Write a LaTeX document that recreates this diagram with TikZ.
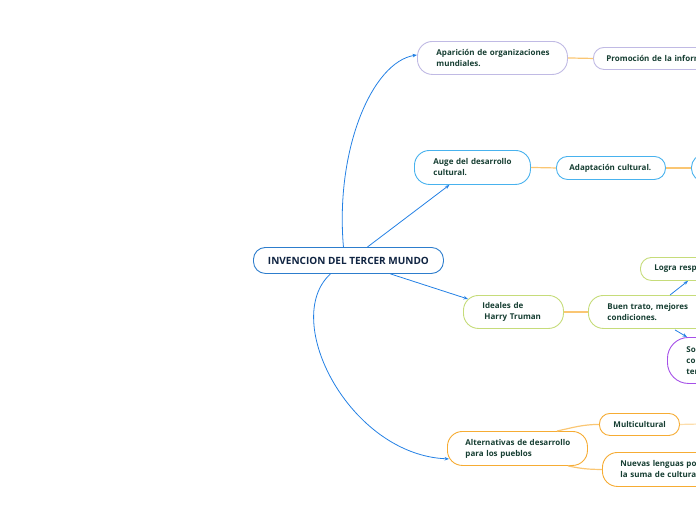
\documentclass[tikz,border=0pt]{standalone}
\usepackage{fontspec}
\setmainfont{Open Sans}
\usetikzlibrary{calc,arrows.meta}
\definecolor{linkblue}{RGB}{35,128,228}
\definecolor{rootblue}{RGB}{45,125,205}
\definecolor{lav}{RGB}{192,186,228}
\definecolor{skyb}{RGB}{72,178,238}
\definecolor{lime}{RGB}{198,220,122}
\definecolor{purp}{RGB}{165,80,232}
\definecolor{orng}{RGB}{246,172,52}
\definecolor{linkorange}{RGB}{250,198,115}
\definecolor{txtgreen}{RGB}{22,62,50}
\definecolor{rootnavy}{RGB}{16,36,66}
\begin{document}
\begin{tikzpicture}[x=1pt,y=-1pt,
  mmbox/.style={draw, fill=white, line width=0.9pt, align=left, anchor=north west,
    inner ysep=0pt, font=\fontsize{8}{11}\selectfont\bfseries, text=txtgreen},
  blueln/.style={draw=linkblue, line width=0.8pt, -{Stealth[length=4.5pt,width=3.5pt]}},
  orln/.style={draw=linkorange, line width=1.2pt}]
\useasboundingbox (0,0) rectangle (696,520);
\clip (0,0) rectangle (696,520);
% root
\node[mmbox, draw=rootblue, rounded corners=12pt, minimum width=190pt, minimum height=26pt,
  inner xsep=0pt, align=center, font=\fontsize{10}{12}\selectfont\bfseries, text=rootnavy]
  (root) at (253,247) {INVENCION DEL TERCER MUNDO};
% branch A
\node[mmbox, draw=lav, rounded corners=15pt, minimum height=33pt, inner xsep=19pt, text width=112pt]
  (A) at (417,41) {\mbox{Aparición de organizaciones}\\mundiales.};
\node[mmbox, draw=lav, rounded corners=10.5pt, minimum height=22pt, inner xsep=13pt, text width=150pt]
  (A2) at (593,47) {\mbox{Promoción de la inform}};
% branch B
\node[mmbox, draw=skyb, rounded corners=15pt, minimum height=34pt, inner xsep=19pt, text width=78pt]
  (B) at (414,150) {\mbox{Auge del desarrollo}\\cultural.};
\node[mmbox, draw=skyb, rounded corners=11pt, minimum height=23pt, inner xsep=13pt, text width=83pt]
  (B2) at (556,156) {\mbox{Adaptación cultural.}};
\node[mmbox, draw=skyb, rounded corners=13pt, minimum height=27pt, minimum width=80pt]
  (B3) at (691,154) {};
% branch C
\node[mmbox, draw=lime, rounded corners=15pt, minimum height=33pt, inner xsep=19pt, text width=62pt]
  (C) at (463,295) {\mbox{Ideales de}\\\mbox{\hspace*{2pt}Harry Truman}};
\node[mmbox, draw=lime, rounded corners=15pt, minimum height=33pt, inner xsep=19pt, text width=100pt]
  (C2) at (588,295) {\mbox{Buen trato, mejores}\\condiciones.};
\node[mmbox, draw=lime, rounded corners=11pt, minimum height=23pt, inner xsep=14pt, text width=100pt]
  (C3) at (640,257) {\mbox{Logra resp}};
\node[mmbox, draw=purp, rounded corners=21pt, minimum height=46pt, inner xsep=19pt, text width=60pt]
  (C4) at (667,337) {Sol\\co\\ter};
% branch D
\node[mmbox, draw=orng, rounded corners=15pt, minimum height=34pt, inner xsep=18pt, text width=104pt]
  (D) at (447,431) {\mbox{Alternativas de desarrollo}\\\mbox{para los pueblos}};
\node[mmbox, draw=orng, rounded corners=10.5pt, minimum height=22pt, inner xsep=14pt, text width=52pt]
  (D2) at (599,413) {\mbox{Multicultural}};
\node[mmbox, draw=orng, rounded corners=15pt, minimum height=34pt, inner xsep=18pt, text width=110pt]
  (D3) at (602,452) {\mbox{Nuevas lenguas po}\\\mbox{la suma de culturas}};
\coordinate (D2e) at (700,424);
% connectors from root
\draw[blueln] ($(root.north)+(-5,0)$) .. controls (335,150) and (372,62) .. ($(A.west)+(0,-3)$);
\draw[blueln] ($(root.north)+(19,0)$) -- ($(B.south)+(-23,0)$);
\draw[blueln] ($(root.south)+(42,0)$) -- ($(C.north west)+(5,4)$);
\draw[blueln] ($(root.south)+(-18,0)$) .. controls (280,320) and (350,455) .. ($(D.south west)+(2,-7)$);
% secondary connectors
\draw[orln] (A.east) -- (A2.west);
\draw[orln] (B.east) -- (B2.west);
\draw[orln] (B2.east) -- (B3.west);
\draw[orln] (C.east) -- (C2.west);
\draw[blueln] ($(C2.north west)+(82,0)$) -- ($(C3.south west)+(48,0)$);
\draw[blueln] ($(C2.south west)+(87,1)$) -- ($(C4.north west)+(20,0)$);
\draw[orln] ($(D.north west)+(110,0)$) to[out=12,in=180] (D2.west);
\draw[orln] ($(D.south west)+(121,0)$) to[out=-12,in=180] (D3.west);
\draw[orln, draw=linkorange!60] (D2.east) -- (D2e);
\end{tikzpicture}
\end{document}
